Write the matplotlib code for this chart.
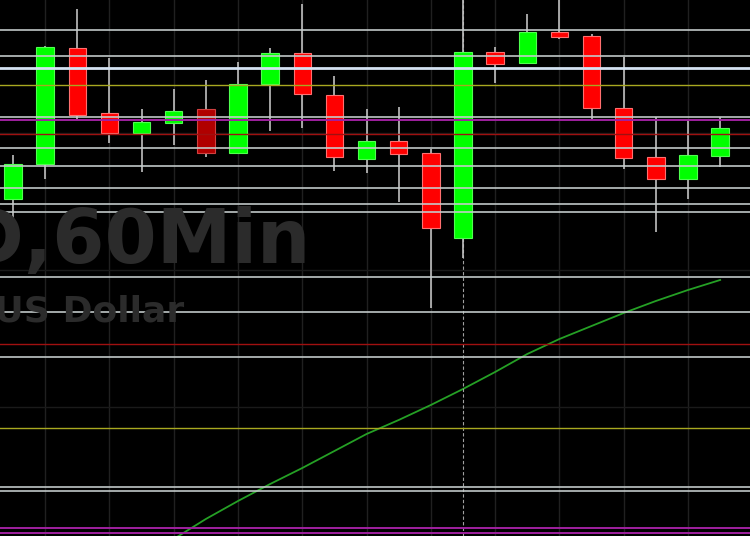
import numpy as np
import matplotlib
matplotlib.use("Agg")
import matplotlib.pyplot as plt

# velas de 60 minutos (precio)
opens  = [1.18337, 1.18372, 1.18488, 1.18423, 1.18403, 1.18413, 1.18427, 1.18383,
          1.18452, 1.18483, 1.18441, 1.18377, 1.18395, 1.18383, 1.18298, 1.18484,
          1.18473, 1.18504, 1.18500, 1.18428, 1.18379, 1.18357, 1.18380]
highs  = [1.18381, 1.18490, 1.18527, 1.18478, 1.18427, 1.18447, 1.18456, 1.18474,
          1.18488, 1.18532, 1.18460, 1.18427, 1.18429, 1.18387, 1.18541, 1.18489,
          1.18522, 1.18541, 1.18502, 1.18479, 1.18419, 1.18416, 1.18419]
lows   = [1.18306, 1.18357, 1.18416, 1.18393, 1.18364, 1.18391, 1.18379, 1.18383,
          1.18405, 1.18408, 1.18365, 1.18363, 1.18334, 1.18228, 1.18278, 1.18453,
          1.18473, 1.18497, 1.18416, 1.18367, 1.18304, 1.18337, 1.18369]
closes = [1.18372, 1.18489, 1.18421, 1.18403, 1.18414, 1.18425, 1.18383, 1.18452,
          1.18483, 1.18442, 1.18379, 1.18395, 1.18382, 1.18308, 1.18484, 1.18472,
          1.18504, 1.18499, 1.18428, 1.18378, 1.18357, 1.18381, 1.18408]
dim_candle = 6   # vela en rojo oscuro

# media movil (desde la vela 5)
ma_start = 5
ma_vals = [1.17997, 1.18017, 1.18035, 1.18052, 1.18068, 1.18085, 1.18102, 1.18116,
           1.18131, 1.18147, 1.18164, 1.18182, 1.18197, 1.18210, 1.18223, 1.18235,
           1.18246, 1.18256]

# niveles horizontales
gray_levels = [1.18506, 1.18480, 1.18419, 1.18388, 1.18370, 1.18348, 1.18332,
               1.18324, 1.18259, 1.18224, 1.18179, 1.18049, 1.18045]
blue_levels = [1.18468]
yellow_levels = [1.18451, 1.18108]
purple_levels = [1.18416, 1.18008, 1.18003]
red_levels = [1.18402, 1.18192]
grid_levels = [1.18403, 1.18266, 1.18129]

cursor_candle = 14

fig = plt.figure(figsize=(7.5, 5.36), dpi=100, facecolor="black")
ax = fig.add_axes([0, 0, 1, 1])
ax.set_facecolor("black")

x = np.arange(len(opens))

# rejilla
for i in range(1, len(opens) + 1, 2):
    ax.axvline(i, color="#202020", lw=1, zorder=0)
for g in grid_levels:
    ax.axhline(g, color="#1a1a1a", lw=1, zorder=0)

# marca de agua (cortada a la izquierda como en el original)
fig.text(311 / 750, 1 - 263 / 536, "EURUSD,60Min", ha="right", va="baseline",
         fontsize=54, fontweight="bold", color="#2b2b2b", family="DejaVu Sans", zorder=0.5)
fig.text(184 / 750, 1 - 322 / 536, "Euro vs US Dollar", ha="right", va="baseline",
         fontsize=26, fontweight="bold", color="#2b2b2b", family="DejaVu Sans", zorder=0.5)

# media movil
ax.plot(x[ma_start:ma_start + len(ma_vals)], ma_vals, color="#25a025", lw=1.3, zorder=2)

# cursor
ax.axvline(cursor_candle, color="#a0a0a0", lw=0.8, ls=(0, (3, 2)), zorder=2)

# velas
o = np.array(opens); c = np.array(closes)
ax.vlines(x, lows, highs, color="#c0c0c0", lw=1.2, zorder=3)
body_col = []
edge_col = []
for i in range(len(o)):
    if c[i] >= o[i]:
        body_col.append("#00ff00"); edge_col.append("#50ff50")
    elif i == dim_candle:
        body_col.append("#b00000"); edge_col.append("#d04040")
    else:
        body_col.append("#ff0000"); edge_col.append("#ff7070")
ax.bar(x, np.maximum(np.abs(c - o), 0.00003), bottom=np.minimum(o, c), width=0.54,
       color=body_col, edgecolor=edge_col, lw=0.8, zorder=4)

# lineas horizontales
for lv in gray_levels:
    ax.axhline(lv, color="#c4cccc", lw=1.3, alpha=0.9, zorder=5)
for lv in blue_levels:
    ax.axhline(lv, color="#d4e2f2", lw=2.0, zorder=5)
for lv in yellow_levels:
    ax.axhline(lv, color="#a8a820", lw=1.0, zorder=5)
for lv in purple_levels:
    ax.axhline(lv, color="#a020a0", lw=1.4, zorder=5)
for lv in red_levels:
    ax.axhline(lv, color="#a01010", lw=1.0, zorder=5)

ax.set_xlim(-0.405, 22.93)
ax.set_ylim(1.18000, 1.18536)
ax.axis("off")

fig.savefig("out.png", dpi=100, facecolor="black")
